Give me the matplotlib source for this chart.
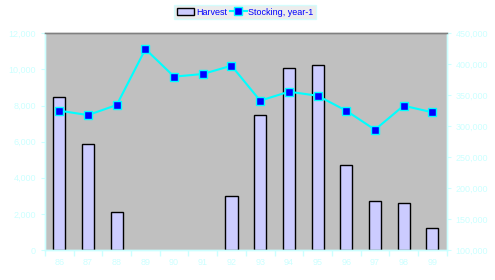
import numpy as np
import matplotlib
matplotlib.use('Agg')
import matplotlib.pyplot as plt
from matplotlib.ticker import FuncFormatter

# values
years = ['86', '87', '88', '89', '90', '91', '92', '93', '94', '95', '96', '97', '98', '99']
harvest = [8490, 5890, 2120, 0, 0, 0, 2970, 7460, 10060, 10230, 4690, 2700, 2590, 1200]
stocking = [325000, 318000, 334200, 424600, 380000, 384300, 397700,
            341200, 355700, 349200, 325000, 294300, 333100, 322400]

tick_col = '#CCFFFF'
plt.rcParams['font.family'] = ['Liberation Sans', 'DejaVu Sans']

fig = plt.figure(figsize=(4.95, 2.8), dpi=100)
ax = fig.add_axes([0.0909, 0.1071, 0.8115, 0.7739])
ax.set_facecolor('#C0C0C0')

x = np.arange(len(years))
# empty years draw no outline at all
edges = ['black' if h > 0 else 'none' for h in harvest]
ax.bar(x, harvest, width=0.42, color='#CCCCFF', edgecolor=edges, linewidth=1.0,
       label='Harvest', zorder=2)
ax.set_xlim(-0.5, len(years) - 0.5)
ax.set_ylim(0, 12000)
ax.set_yticks(np.arange(0, 12001, 2000))

ax2 = ax.twinx()
ax2.plot(x, stocking, color='#00FFFF', linewidth=1.5, marker='s', markersize=5.5,
         markerfacecolor='#0000FF', markeredgecolor='#00FFFF', markeredgewidth=1,
         label='Stocking, year-1', zorder=3)
ax2.set_ylim(100000, 450000)
ax2.set_yticks(np.arange(100000, 450001, 50000))

fmt = FuncFormatter(lambda v, p: '{:,.0f}'.format(v))
ax.yaxis.set_major_formatter(fmt)
ax2.yaxis.set_major_formatter(fmt)

# category ticks at boundaries, labels at centers
ax.set_xticks(np.arange(-0.5, len(years)), minor=False)
ax.set_xticklabels([])
ax.set_xticks(x, minor=True)
ax.set_xticklabels(years, minor=True)
ax.tick_params(axis='x', which='major', direction='out', length=4, color=tick_col, width=1)
ax.tick_params(axis='x', which='minor', length=0, pad=6, labelsize=6.5, labelcolor=tick_col)
ax.tick_params(axis='y', direction='out', length=3, color=tick_col, labelsize=6.5,
               labelcolor=tick_col)
ax2.tick_params(axis='y', direction='out', length=3, color=tick_col, labelsize=6.5,
                labelcolor=tick_col)

for a in (ax, ax2):
    for s in ('left', 'right', 'bottom'):
        a.spines[s].set_color(tick_col)
        a.spines[s].set_linewidth(1)
    a.spines['top'].set_color('#808080')
    a.spines['top'].set_linewidth(1)

h1, l1 = ax.get_legend_handles_labels()
h2, l2 = ax2.get_legend_handles_labels()
leg = fig.legend(h1 + h2, l1 + l2, loc='center', bbox_to_anchor=(0.4955, 0.957),
                 ncol=2, fontsize=6.5, frameon=True, fancybox=False,
                 handlelength=1.9, handletextpad=0.2, columnspacing=0.3,
                 borderpad=0.3, labelcolor='#0000FF')
leg.legend_handles[0].set_edgecolor('black')
leg.get_frame().set_facecolor('#E8E8E8')
leg.get_frame().set_edgecolor(tick_col)
leg.get_frame().set_linewidth(1)

fig.savefig('out.png', dpi=100, facecolor='white')
